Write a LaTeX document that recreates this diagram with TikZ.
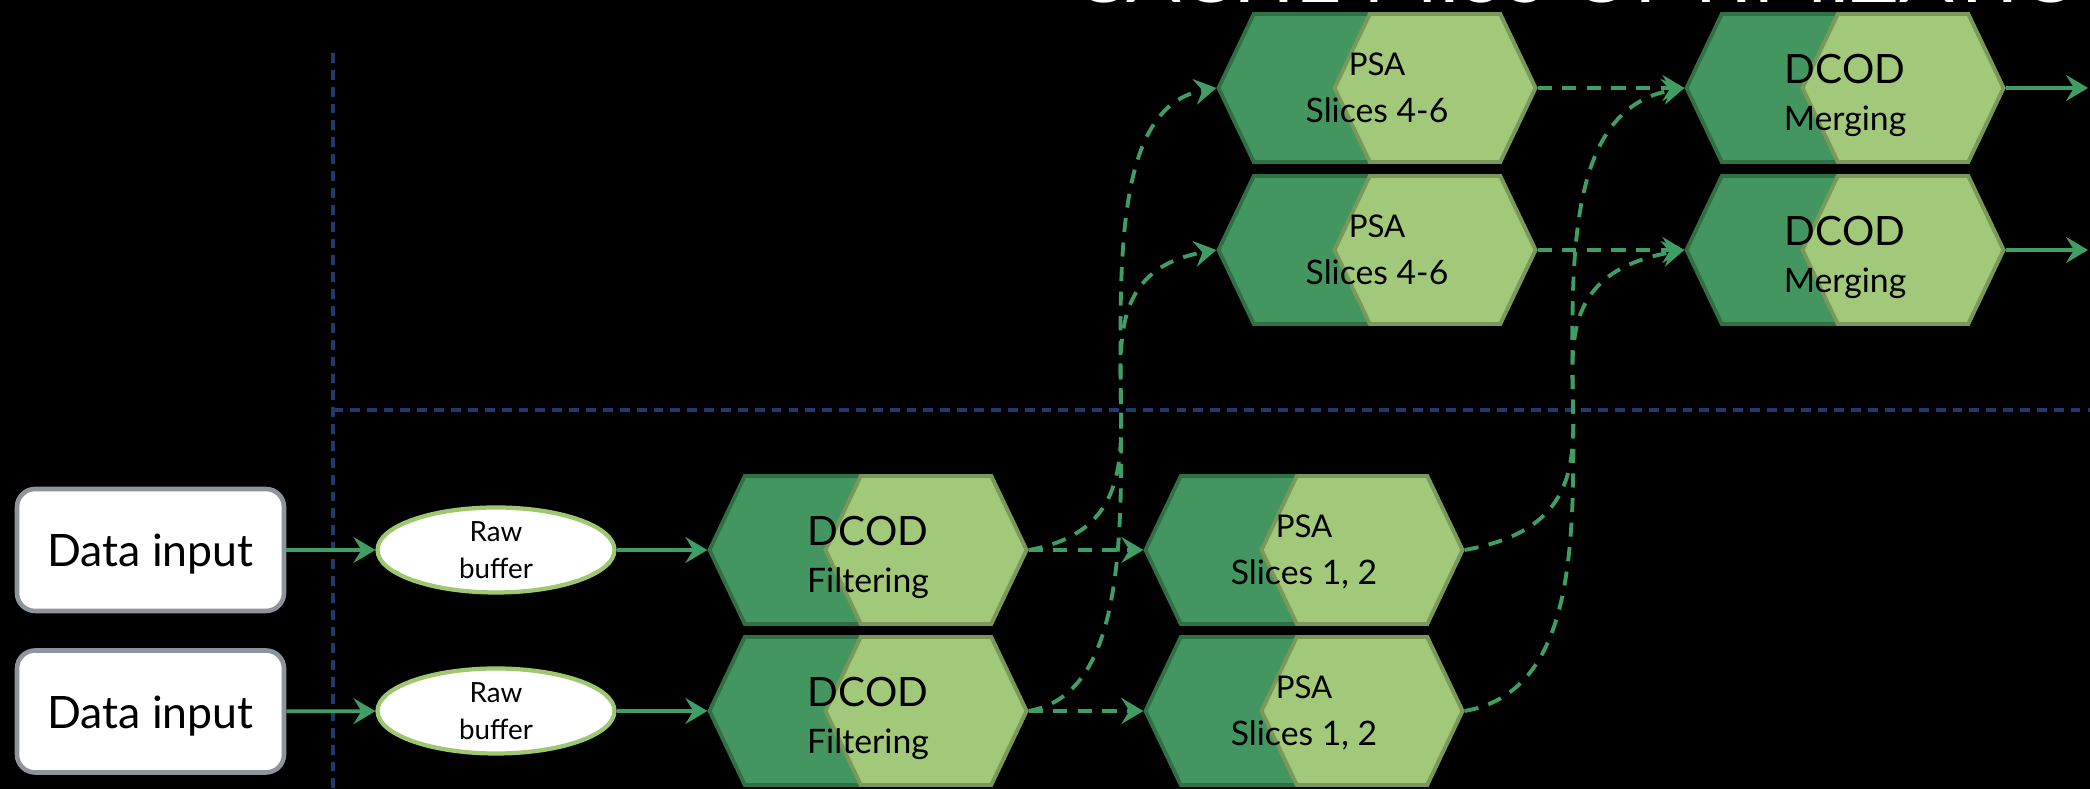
\documentclass[tikz,border=0pt]{standalone}
\usepackage{fontspec}
\setmainfont{Lato}
\usetikzlibrary{arrows.meta,shapes.geometric,shapes.symbols}
\definecolor{boxgray}{HTML}{8E949C}
\definecolor{buflight}{HTML}{9DC870}
\definecolor{hexdarkfill}{HTML}{43965F}
\definecolor{hexdarkline}{HTML}{2F7044}
\definecolor{hexlightfill}{HTML}{A2C97A}
\definecolor{hexlightline}{HTML}{7A985A}
\definecolor{flowgreen}{HTML}{3F9E64}
\definecolor{lanenavy}{HTML}{203A70}
\newcommand{\stagelabel}[3]{{\fontsize{#1}{#1}\selectfont #2}\\ #3}

\begin{document}
\begin{tikzpicture}[
    inbox/.style = {rectangle, rounded corners = 0.18cm, draw = boxgray, line width = 1.3pt, fill = white,
        minimum width = 2.67cm, minimum height = 1.22cm, text height = 0.38cm, text depth = 0.04cm,
        font = \fontsize{12.7}{15}\selectfont},
    buffer/.style = {ellipse, draw = buflight, line width = 1.2pt, fill = white, inner sep = 0pt,
        minimum width = 2.37cm, minimum height = 0.85cm, align = center, font = \fontsize{7.9}{10.5}\selectfont},
    hexdark/.style = {signal, signal to = west and east, signal pointer angle = 129, inner sep = 0pt,
        fill = hexdarkfill, draw = hexdarkline, line width = 1.1pt, minimum width = 3.17cm, minimum height = 1.48cm},
    hexlight/.style = {hexdark, fill = hexlightfill, draw = hexlightline, minimum width = 2.01cm, anchor = east},
    hextext/.style = {align = center, inner sep = 0pt, font = \fontsize{9.6}{13.2}\selectfont},
    flow/.style = {draw = flowgreen, line width = 1.1pt, -{Stealth[length = 0.22cm, width = 0.26cm, inset = 0.08cm]}},
    hop/.style = {flow, dash pattern = on 4pt off 3pt},
    lane/.style = {draw = lanenavy, line width = 1pt, dash pattern = on 2.8pt off 2pt}]

    \fill[black] (0,0) rectangle (20.9,7.89);
    \useasboundingbox (0,0) rectangle (20.9,7.89);
    \clip (0,0) rectangle (20.9,7.89);

    \node (title) at (10.72,7.86) [anchor = base west, inner sep = 0pt, text = white, font = \fontsize{23}{27}\selectfont] {CACHE MISS OPTIMIZATION};

    % lanes
    \coordinate (laneTop)    at ( 3.33, 7.36);
    \coordinate (laneBottom) at ( 3.33, 0);
    \coordinate (laneLeft)   at ( 3.33, 3.79);
    \coordinate (laneRight)  at (20.9,  3.79);
    \draw[lane] (laneTop) -- (laneBottom);
    \draw[lane] (laneLeft) -- (laneRight);

    \node (in1)  at ( 1.505, 2.39) [inbox]  {Data input};
    \node (in2)  at ( 1.505, 0.775) [inbox] {Data input};
    \node (raw1) at ( 4.96, 2.39) [buffer]  {Raw\\buffer};
    \node (raw2) at ( 4.96, 0.78) [buffer]  {Raw\\buffer};

    \node (filt1)  at ( 8.68, 2.39) [hexdark] {};
    \node (filt1l) at (filt1.east)   [hexlight] {};
    \node (filt1t) at ( 8.68, 2.39) [hextext, yshift = -0.075cm] {\stagelabel{11.5}{DCOD}{Filtering}};
    \node (filt2)  at ( 8.68, 0.78) [hexdark] {};
    \node (filt2l) at (filt2.east)   [hexlight] {};
    \node (filt2t) at ( 8.68, 0.78) [hextext, yshift = -0.075cm] {\stagelabel{11.5}{DCOD}{Filtering}};

    \node (slice1)  at (13.04, 2.39) [hexdark] {};
    \node (slice1l) at (slice1.east)  [hexlight] {};
    \node (slice1t) at (13.04, 2.39) [hextext, yshift = -0.02cm] {\stagelabel{8.9}{PSA}{Slices 1, 2}};
    \node (slice2)  at (13.04, 0.78) [hexdark] {};
    \node (slice2l) at (slice2.east)  [hexlight] {};
    \node (slice2t) at (13.04, 0.78) [hextext, yshift = -0.02cm] {\stagelabel{8.9}{PSA}{Slices 1, 2}};

    \node (slicehi1)  at (13.77, 7.01) [hexdark] {};
    \node (slicehi1l) at (slicehi1.east) [hexlight] {};
    \node (slicehi1t) at (13.77, 7.01) [hextext] {\stagelabel{8.9}{PSA}{Slices 4-6}};
    \node (slicehi2)  at (13.77, 5.39) [hexdark] {};
    \node (slicehi2l) at (slicehi2.east) [hexlight] {};
    \node (slicehi2t) at (13.77, 5.39) [hextext] {\stagelabel{8.9}{PSA}{Slices 4-6}};

    \node (merge1)  at (18.45, 7.01) [hexdark] {};
    \node (merge1l) at (merge1.east)  [hexlight] {};
    \node (merge1t) at (18.45, 7.01) [hextext, yshift = -0.075cm] {\stagelabel{11.5}{DCOD}{Merging}};
    \node (merge2)  at (18.45, 5.39) [hexdark] {};
    \node (merge2l) at (merge2.east)  [hexlight] {};
    \node (merge2t) at (18.45, 5.39) [hextext, yshift = -0.075cm] {\stagelabel{11.5}{DCOD}{Merging}};

    \coordinate (out1) at (20.88, 7.01);
    \coordinate (out2) at (20.88, 5.39);

    \foreach \from/\to in {in1/raw1, in2/raw2, raw1/filt1, raw2/filt2}
        \draw[flow] (\from) -- (\to);
    \foreach \from/\to in {merge1/out1, merge2/out2}
        \draw[flow] (\from.east) -- (\to);
    \foreach \from/\to in {filt1/slice1, filt2/slice2, slicehi1/merge1, slicehi2/merge2}
        \draw[hop] (\from.east) -- (\to.west);
    \foreach \from/\to/\reach in {filt1/slicehi2/1.9, filt2/slicehi1/1.9, slice1/merge2/2.24, slice2/merge1/2.24}
        \draw[hop] (\from.east) .. controls +(10:\reach) and +(190:\reach) .. (\to.west);

\end{tikzpicture}
\end{document}
